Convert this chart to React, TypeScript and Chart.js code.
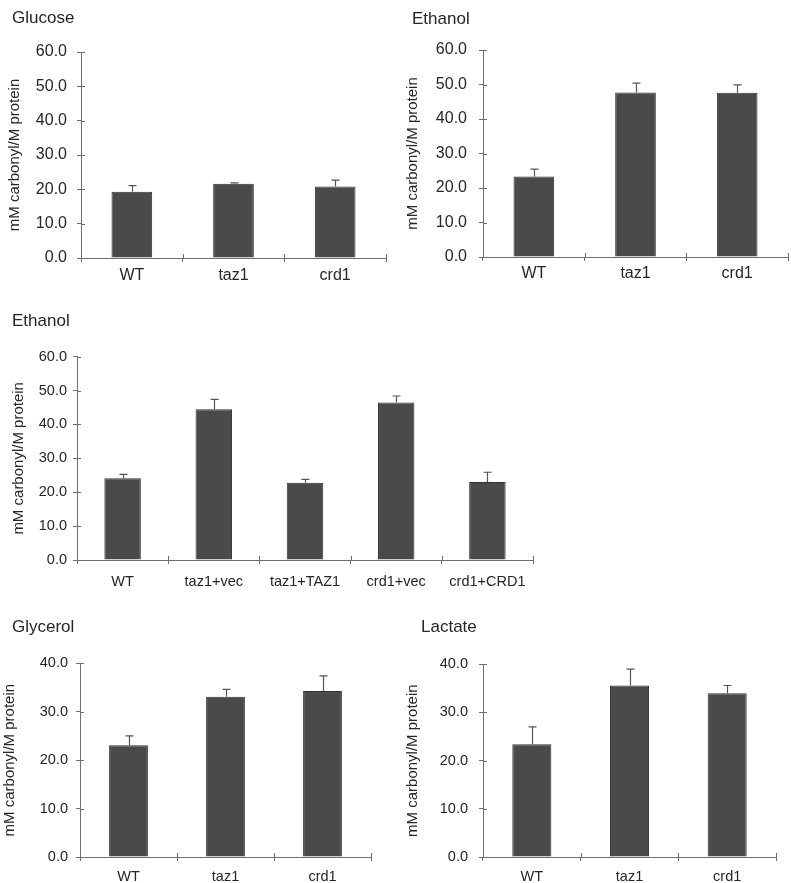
import React, { useEffect, useRef } from "react";
import { Chart, registerables } from "chart.js";

Chart.register(...registerables);

// ---------- data ----------
const glucoseLabels = ["WT", "taz1", "crd1"];
const glucoseValues = [19.3, 21.6, 20.8];
const glucoseErrors = [1.8, 0.3, 1.9];

const ethanolTopLabels = ["WT", "taz1", "crd1"];
const ethanolTopValues = [23.3, 47.7, 47.6];
const ethanolTopErrors = [2.2, 2.7, 2.3];

const ethanolMidLabels = ["WT", "taz1+vec", "taz1+TAZ1", "crd1+vec", "crd1+CRD1"];
const ethanolMidValues = [24.1, 44.5, 22.8, 46.5, 23.0];
const ethanolMidErrors = [1.2, 2.9, 1.0, 1.9, 2.9];

const glycerolLabels = ["WT", "taz1", "crd1"];
const glycerolValues = [23.1, 33.1, 34.3];
const glycerolErrors = [1.9, 1.5, 3.1];

const lactateLabels = ["WT", "taz1", "crd1"];
const lactateValues = [23.4, 35.6, 34.0];
const lactateErrors = [3.6, 3.4, 1.6];

const yAxisTitle = "mM carbonyl/M protein";

// ---------- styles ----------
const FONT = "'Liberation Sans', Arial, Helvetica, sans-serif";
const TEXT = "#262626";
const AXIS = "#6e6e6e";
const BAR = "#4a4a4a";
const BAR_BORDER = "#333333";
const ERR = "#555555";

type Layout = {
  titleX: number;
  titleCY: number;
  yTitleCX: number;
  axisX: number;
  top: number;
  bottom: number;
  right: number;
  yLabelRight: number;
  xLabelCY: number;
  tickSize: number;
};

type Panel = {
  title: string;
  labels: string[];
  values: number[];
  errors: number[];
  yMax: number;
  layout: Layout;
};

const panels: Panel[] = [
  {
    title: "Glucose",
    labels: glucoseLabels,
    values: glucoseValues,
    errors: glucoseErrors,
    yMax: 60,
    layout: { titleX: 12, titleCY: 18.5, yTitleCX: 15, axisX: 81, top: 52, bottom: 258, right: 386, yLabelRight: 67, xLabelCY: 275.5, tickSize: 16 },
  },
  {
    title: "Ethanol",
    labels: ethanolTopLabels,
    values: ethanolTopValues,
    errors: ethanolTopErrors,
    yMax: 60,
    layout: { titleX: 412, titleCY: 19, yTitleCX: 412.5, axisX: 483, top: 50, bottom: 257, right: 788, yLabelRight: 467, xLabelCY: 273.5, tickSize: 16 },
  },
  {
    title: "Ethanol",
    labels: ethanolMidLabels,
    values: ethanolMidValues,
    errors: ethanolMidErrors,
    yMax: 60,
    layout: { titleX: 12, titleCY: 321, yTitleCX: 19, axisX: 77, top: 356.7, bottom: 560, right: 533, yLabelRight: 67, xLabelCY: 582, tickSize: 14.5 },
  },
  {
    title: "Glycerol",
    labels: glycerolLabels,
    values: glycerolValues,
    errors: glycerolErrors,
    yMax: 40,
    layout: { titleX: 12, titleCY: 627.5, yTitleCX: 10, axisX: 80, top: 663.3, bottom: 856.7, right: 371, yLabelRight: 68, xLabelCY: 877, tickSize: 14.5 },
  },
  {
    title: "Lactate",
    labels: lactateLabels,
    values: lactateValues,
    errors: lactateErrors,
    yMax: 40,
    layout: { titleX: 421, titleCY: 627.5, yTitleCX: 412.5, axisX: 483, top: 664.3, bottom: 856.7, right: 776, yLabelRight: 468, xLabelCY: 877, tickSize: 14.5 },
  },
];

const TITLE_SIZE = 17;
const TITLE_LH = 1.2;
const YT_SIZE = 15;
const TICK_LEN = 4;
const X_SCALE_H = 34;
const RIGHT_PAD = 3;

function geometry(l: Layout) {
  const canvasLeft = Math.floor(l.yTitleCX - 11);
  const canvasTop = Math.floor(l.titleCY - 13);
  const width = Math.ceil(l.right - canvasLeft + RIGHT_PAD);
  const height = Math.ceil(l.bottom - canvasTop + X_SCALE_H);
  return { canvasLeft, canvasTop, width, height };
}

const errorBarPlugin = {
  id: "errorBars",
  afterDatasetsDraw(chart: any, _args: any, opts: any) {
    const errs: number[] = opts.errors || [];
    const meta = chart.getDatasetMeta(0);
    const ys = chart.scales.y;
    const ctx = chart.ctx;
    ctx.save();
    ctx.strokeStyle = ERR;
    ctx.lineWidth = 1.2;
    meta.data.forEach((bar: any, i: number) => {
      const v = chart.data.datasets[0].data[i] as number;
      const yTop = ys.getPixelForValue(v + errs[i]);
      const yBase = ys.getPixelForValue(v);
      const x = Math.round(bar.x) + 0.5;
      ctx.beginPath();
      ctx.moveTo(x, yBase);
      ctx.lineTo(x, yTop);
      ctx.moveTo(x - 4, yTop);
      ctx.lineTo(x + 4, yTop);
      ctx.stroke();
    });
    ctx.restore();
  },
};

const innerTicksPlugin = {
  id: "innerTicks",
  afterDraw(chart: any) {
    const xs = chart.scales.x;
    const ys = chart.scales.y;
    const ctx = chart.ctx;
    ctx.save();
    ctx.strokeStyle = AXIS;
    ctx.lineWidth = 1;
    const ax = chart.chartArea.left;
    ys.ticks.forEach((t: any) => {
      const y = Math.round(ys.getPixelForValue(t.value)) + 0.5;
      ctx.beginPath();
      ctx.moveTo(ax, y);
      ctx.lineTo(ax + 4, y);
      ctx.stroke();
    });
    const by = chart.chartArea.bottom;
    const n = chart.data.labels.length;
    for (let i = 1; i <= n; i++) {
      const x = Math.round(xs.getPixelForValue(i - 0.5)) + 0.5;
      ctx.beginPath();
      ctx.moveTo(x, by);
      ctx.lineTo(x, by - 4);
      ctx.stroke();
    }
    ctx.restore();
  },
};

const titleShiftPlugin = {
  id: "titleShift",
  afterLayout(chart: any, _args: any, opts: any) {
    const tb = chart.titleBlock;
    if (tb && typeof opts.x === "number") {
      const w = tb.right - tb.left;
      tb.left = opts.x;
      tb.right = opts.x + w;
    }
  },
};

function BarPanel({ panel }: { panel: Panel }) {
  const ref = useRef<HTMLCanvasElement | null>(null);
  const l = panel.layout;
  const g = geometry(l);

  useEffect(() => {
    if (!ref.current) return;
    const titleH = TITLE_SIZE * TITLE_LH;
    const padTop = l.titleCY - g.canvasTop - titleH / 2;
    const padBottom = l.top - g.canvasTop - padTop - titleH;
    const yScaleW = l.axisX - g.canvasLeft;
    const yTitleOffset = l.yTitleCX - g.canvasLeft;
    const xLabelGap = l.xLabelCY - l.bottom - (l.tickSize * 1.2) / 2 - TICK_LEN;
    const yLabelGap = l.axisX - l.yLabelRight - TICK_LEN;

    const chart = new Chart(ref.current, {
      type: "bar",
      data: {
        labels: panel.labels,
        datasets: [
          {
            data: panel.values,
            backgroundColor: BAR,
            borderColor: BAR_BORDER,
            borderWidth: 1,
            barPercentage: 0.4,
            categoryPercentage: 1,
          },
        ],
      },
      plugins: [errorBarPlugin, innerTicksPlugin, titleShiftPlugin],
      options: {
        animation: false,
        responsive: false,
        maintainAspectRatio: false,
        devicePixelRatio: 1,
        layout: { padding: { left: 0, right: RIGHT_PAD, top: 0, bottom: 0 } },
        plugins: {
          legend: { display: false },
          tooltip: { enabled: false },
          title: {
            display: true,
            text: panel.title,
            align: "start",
            color: TEXT,
            font: { family: FONT, size: TITLE_SIZE, weight: "normal", lineHeight: TITLE_LH },
            padding: { top: padTop, bottom: padBottom },
          },
          errorBars: { errors: panel.errors },
          titleShift: { x: l.titleX - g.canvasLeft },
        } as any,
        scales: {
          x: {
            offset: true,
            grid: {
              display: true,
              offset: true,
              drawOnChartArea: false,
              drawTicks: true,
              tickLength: TICK_LEN,
              color: AXIS,
            },
            border: { display: true, color: AXIS, width: 1 },
            ticks: {
              color: TEXT,
              padding: xLabelGap,
              maxRotation: 0,
              autoSkip: false,
              font: { family: FONT, size: l.tickSize },
            },
            afterFit: (s: any) => {
              s.height = X_SCALE_H;
            },
          },
          y: {
            min: 0,
            max: panel.yMax,
            grid: {
              display: true,
              drawOnChartArea: false,
              drawTicks: true,
              tickLength: TICK_LEN,
              color: AXIS,
            },
            border: { display: true, color: AXIS, width: 1 },
            ticks: {
              stepSize: 10,
              color: TEXT,
              padding: yLabelGap,
              font: { family: FONT, size: l.tickSize },
              callback: (v: any) => Number(v).toFixed(1),
            },
            title: {
              display: true,
              text: yAxisTitle,
              color: TEXT,
              font: { family: FONT, size: YT_SIZE, lineHeight: 1 },
              padding: { top: yTitleOffset - YT_SIZE / 2, bottom: 0 },
            },
            afterFit: (s: any) => {
              s.width = yScaleW;
            },
          },
        },
      } as any,
    });
    return () => chart.destroy();
  }, []);

  return (
    <canvas
      ref={ref}
      width={g.width}
      height={g.height}
      style={{
        position: "absolute",
        left: g.canvasLeft,
        top: g.canvasTop,
        width: g.width,
        height: g.height,
      }}
    />
  );
}

export default function App() {
  return (
    <div
      style={{
        position: "absolute",
        left: 0,
        top: 0,
        width: 791,
        height: 883,
        background: "#ffffff",
        overflow: "hidden",
      }}
    >
      {panels.map((p, i) => (
        <BarPanel key={i} panel={p} />
      ))}
    </div>
  );
}
